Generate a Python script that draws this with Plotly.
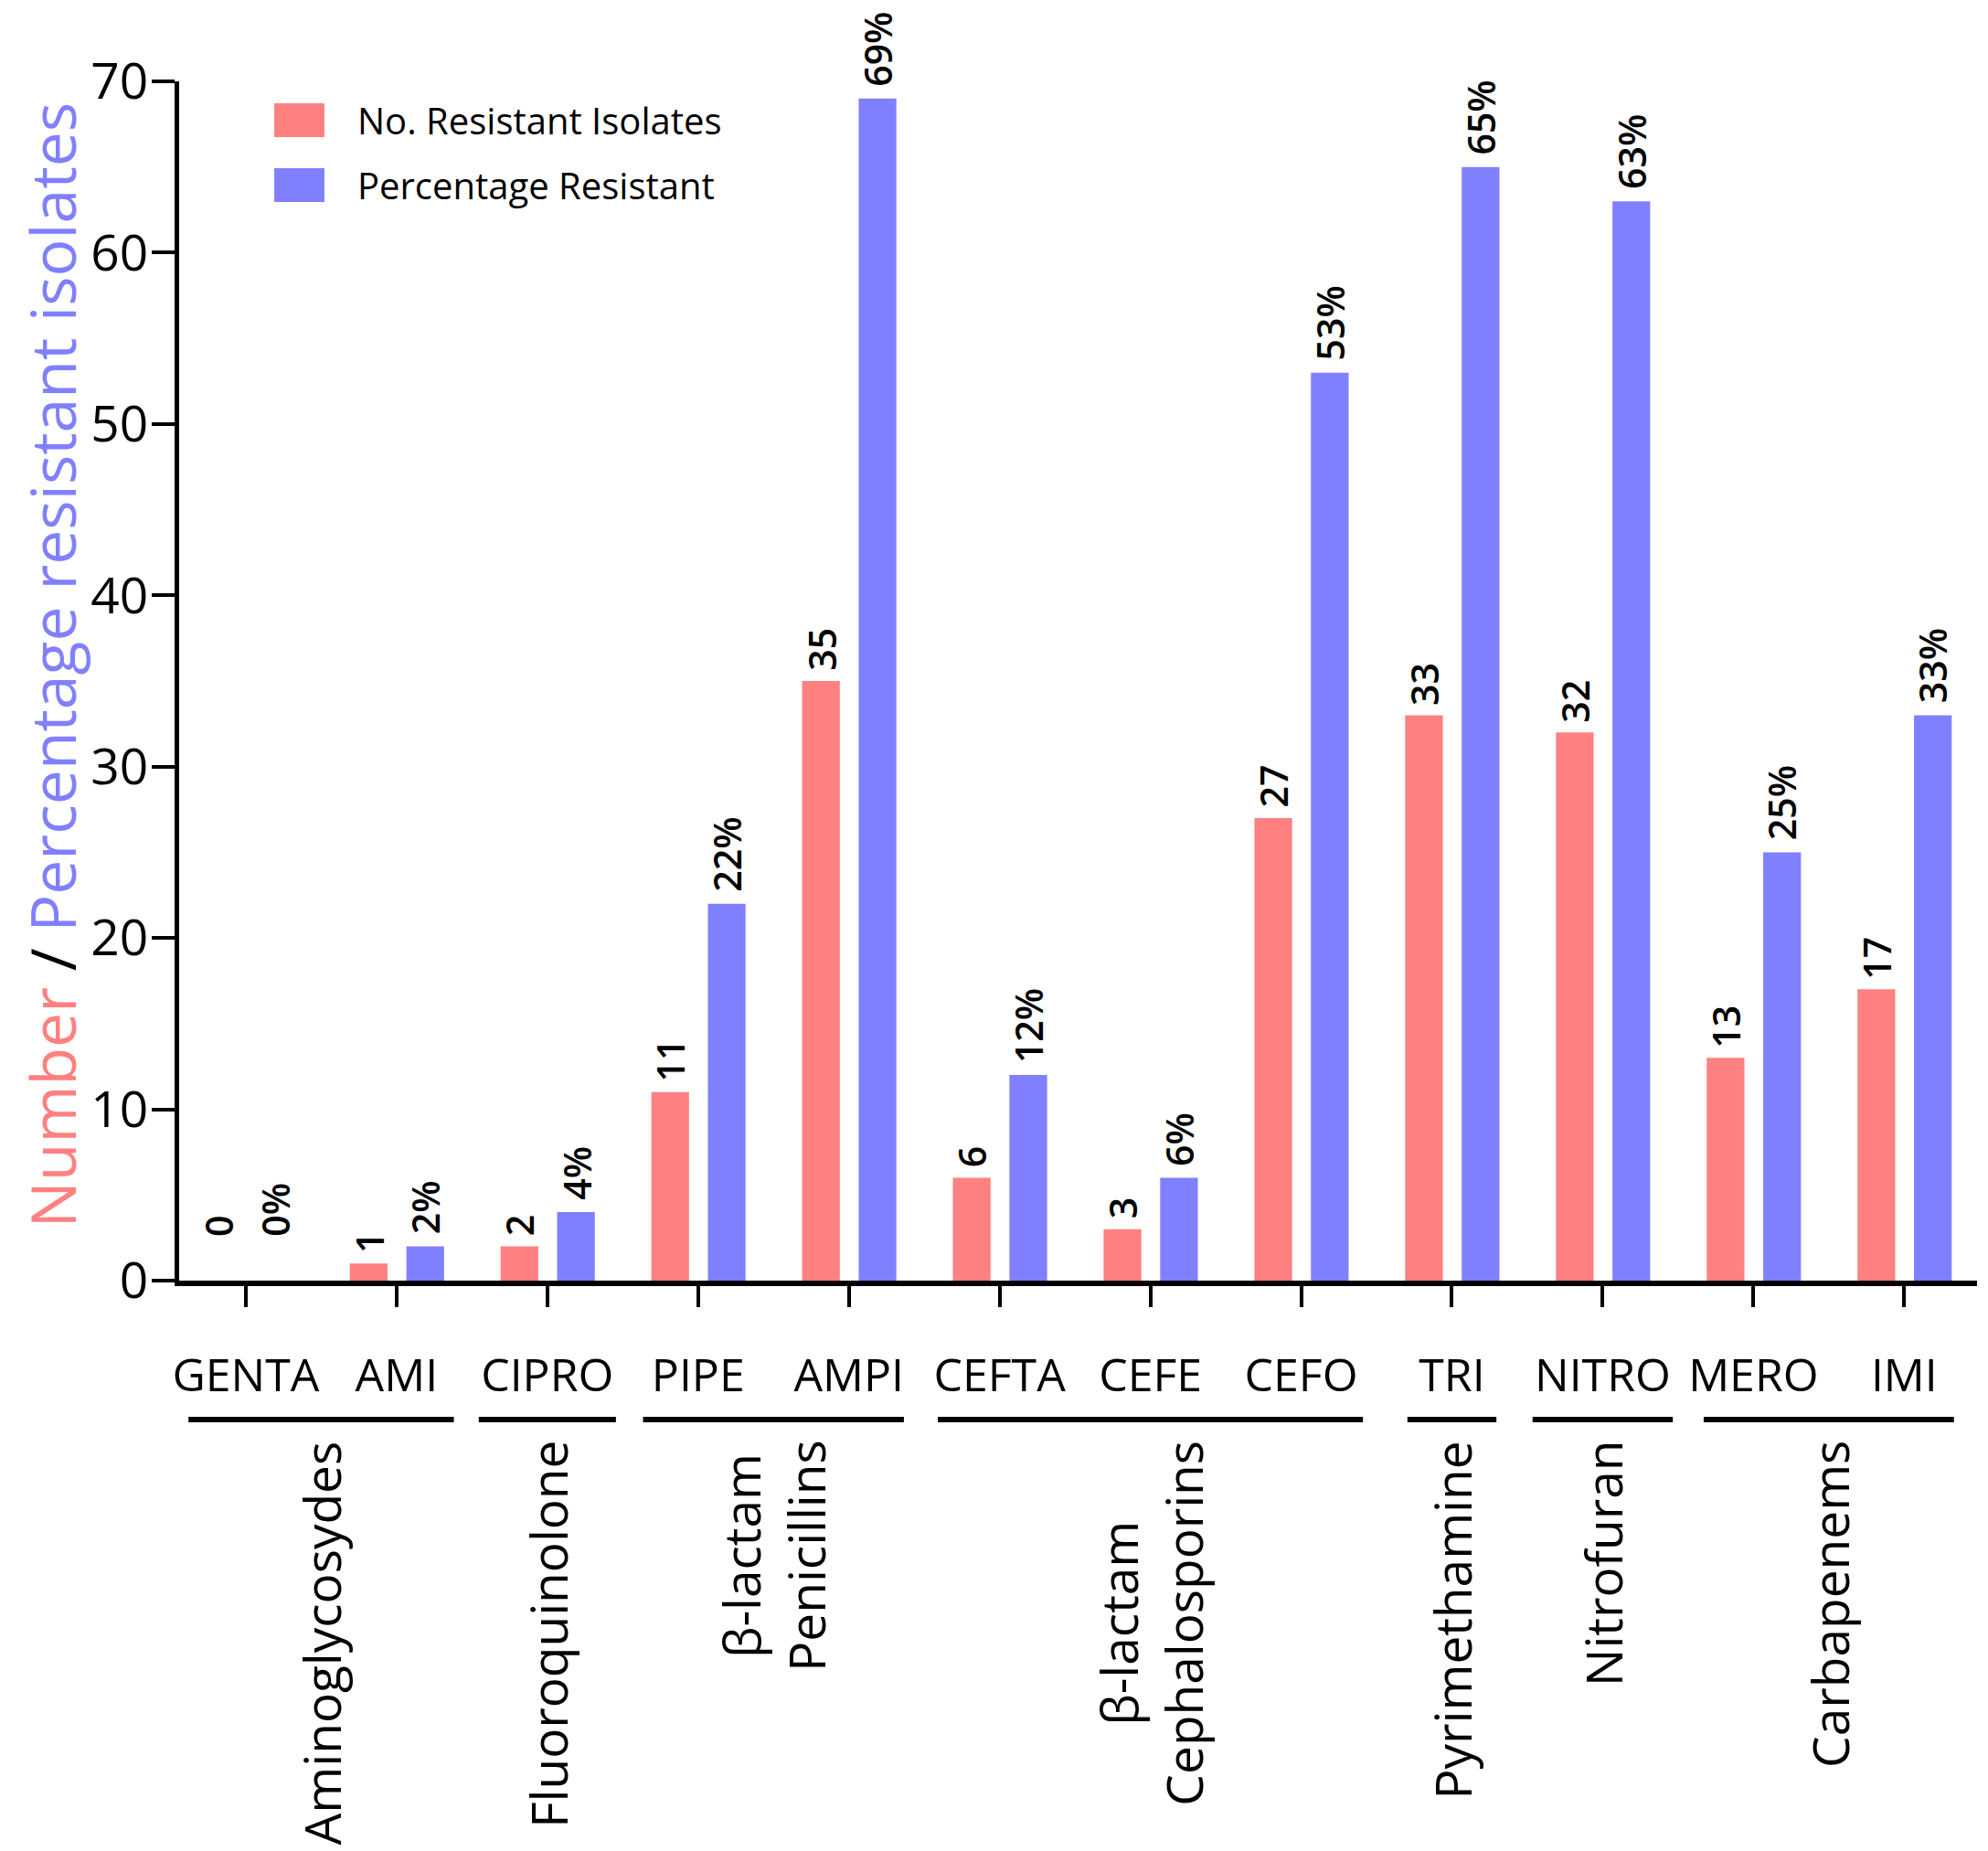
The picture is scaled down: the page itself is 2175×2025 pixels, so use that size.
import plotly.graph_objects as go

# ---------------- data ----------------
antibiotics = ["GENTA", "AMI", "CIPRO", "PIPE", "AMPI", "CEFTA", "CEFE", "CEFO",
               "TRI", "NITRO", "MERO", "IMI"]
n_resistant = [0, 1, 2, 11, 35, 6, 3, 27, 33, 32, 13, 17]
pct_resistant = [0, 2, 4, 22, 69, 12, 6, 53, 65, 63, 25, 33]

group_names = ["Aminoglycosydes", "Fluoroquinolone", "β-lactam<br>Penicillins",
               "β-lactam<br>Cephalosporins", "Pyrimethamine", "Nitrofuran", "Carbapenems"]
group_first = [0, 2, 3, 5, 8, 9, 10]
group_last = [1, 2, 4, 7, 8, 9, 11]

y_ticks = [0, 10, 20, 30, 40, 50, 60, 70]

series_names = ["No. Resistant Isolates", "Percentage Resistant"]

# ---------------- styles / layout constants ----------------
RED = "#FF8080"
BLUE = "#8080FF"
FONT = "Open Sans"
W, H = 2175, 2025
BAR_W = 0.25
RED_OFF = -0.31
BLUE_OFF = 0.065
ML, MR, MT, MB = 188, 20, 81, 632
group_line_halfwidth = [0.88, 0.455, 0.865, 1.41, 0.295, 0.465, 0.83]

x = list(range(len(antibiotics)))

fig = go.Figure()
fig.add_trace(go.Bar(x=x, y=n_resistant, name=series_names[0],
                     marker=dict(color=RED, line=dict(width=0)),
                     width=BAR_W, offset=RED_OFF, showlegend=False))
fig.add_trace(go.Bar(x=x, y=pct_resistant, name=series_names[1],
                     marker=dict(color=BLUE, line=dict(width=0)),
                     width=BAR_W, offset=BLUE_OFF, showlegend=False))

annotations = []
shapes = []

# value labels
lab_font = dict(family=FONT, size=41, color="black", weight=600)
for i, v in enumerate(n_resistant):
    annotations.append(dict(x=i + RED_OFF + BAR_W / 2, y=v, xref="x", yref="y",
                            text=str(v), textangle=-90, showarrow=False,
                            xanchor="center", yanchor="bottom",
                            yshift=9 if v > 0 else 46, font=lab_font))
for i, v in enumerate(pct_resistant):
    annotations.append(dict(x=i + BLUE_OFF + BAR_W / 2, y=v, xref="x", yref="y",
                            text=f"{v}%", textangle=-90, showarrow=False,
                            xanchor="center", yanchor="bottom",
                            yshift=11 if v > 0 else 46, font=lab_font))

# group lines and labels
for name, a, b, hw in zip(group_names, group_first, group_last, group_line_halfwidth):
    c = (a + b) / 2
    shapes.append(dict(type="line", xref="x", yref="paper", x0=c - hw, x1=c + hw,
                       y0=-0.1159, y1=-0.1159, line=dict(color="black", width=6)))
    annotations.append(dict(x=c, y=-0.1319, xref="x", yref="paper", text=name,
                            textangle=-90, showarrow=False, xanchor="center",
                            yanchor="top", align="center",
                            font=dict(family=FONT, size=55, color="black")))

# manual legend
leg_rows = [(RED, 0.9817, 0.9535), (BLUE, 0.9276, 0.8994)]
for (col, y1, y0), nm in zip(leg_rows, series_names):
    shapes.append(dict(type="rect", xref="paper", yref="paper", x0=0.0529, x1=0.0808,
                       y0=y0, y1=y1, fillcolor=col, line=dict(width=0)))
    annotations.append(dict(x=0.0981, y=(y0 + y1) / 2, xref="paper", yref="paper",
                            text=nm, showarrow=False, xanchor="left", yanchor="middle",
                            font=dict(family=FONT, size=40, color="black")))

# y-axis title (two colours)
plot_w = W - ML - MR
annotations.append(dict(
    x=-ML / plot_w, y=0.513, xref="paper", yref="paper", xshift=1, borderpad=0,
    text=f"<span style='color:{RED}'>Number</span> / "
         f"<span style='color:{BLUE}'>Percentage resistant isolates</span>",
    textangle=-90, showarrow=False, xanchor="left", yanchor="middle",
    font=dict(family=FONT, size=68, color="black")))

fig.update_layout(
    width=W, height=H,
    margin=dict(l=ML, r=MR, t=MT, b=MB),
    paper_bgcolor="white", plot_bgcolor="white",
    barmode="overlay",
    font=dict(family=FONT, color="black"),
    annotations=annotations, shapes=shapes,
    showlegend=False,
)
fig.update_xaxes(
    automargin=False,
    range=[-0.442, 11.483], tickmode="array", tickvals=x, ticktext=antibiotics,
    tickangle=0, ticks="outside", ticklen=23, tickwidth=3.5, tickcolor="black",
    showline=True, linewidth=6, linecolor="black", showgrid=False, zeroline=False,
    tickfont=dict(family=FONT, size=50, color="black"), ticklabelstandoff=32,
)
fig.update_yaxes(
    automargin=False,
    range=[0, 70], tickmode="array", tickvals=y_ticks, ticks="outside", ticklen=25,
    tickwidth=4, tickcolor="black", showline=True, linewidth=4.5, linecolor="black",
    showgrid=False, zeroline=False,
    tickfont=dict(family=FONT, size=55, color="black"), ticklabelstandoff=-7,
)

fig.write_html("out.html")
